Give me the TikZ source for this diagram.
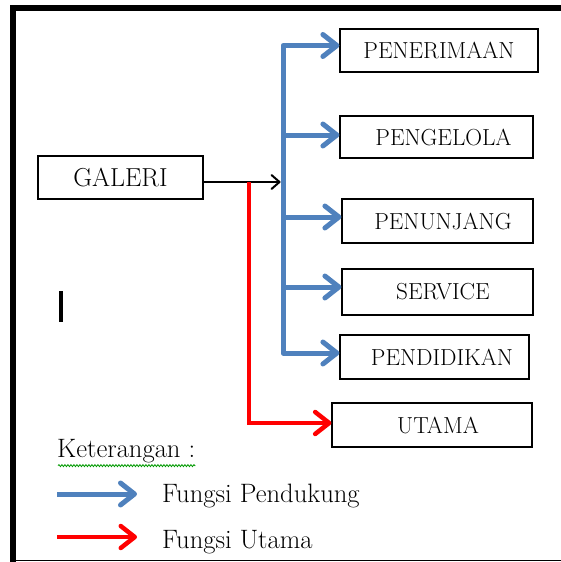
\documentclass[tikz,border=0pt]{standalone}
\usetikzlibrary{arrows.meta,decorations.pathmorphing}
\definecolor{pblue}{HTML}{4F81BD}
\definecolor{pred}{HTML}{FF0000}
\begin{document}
\begin{tikzpicture}[x=1pt,y=-1pt,
  box/.style={draw=black, line width=1.2pt, inner sep=0pt, font=\fontsize{23.2}{28}\selectfont},
  bluearr/.style={draw=pblue, line width=5pt, line join=round, -{Straight Barb[length=14pt,width=22pt,round]}},
  redarr/.style={draw=pred, line width=4.5pt, line join=miter, -{Straight Barb[length=14pt,width=22pt,round]}},
  blackarr/.style={draw=black, line width=2pt, -{Straight Barb[length=8pt,width=14pt,round]}},
  legtext/.style={anchor=base west, inner sep=0pt, font=\fontsize{26.6}{32}\selectfont},
  framethick/.style={line width=6pt, draw=black},
  framethin/.style={line width=1.5pt, draw=black}]
\useasboundingbox (0,0) rectangle (561,562);
% frame
\draw[framethick] (13,5) -- (13,562);
\draw[framethick] (10,8) -- (561,8);
\draw[framethin] (10,560.5) -- (561,560.5);
% boxes
\node[box, minimum width=165pt, minimum height=43pt, font=\fontsize{26}{31}\selectfont] (galeri) at (120.5,177.5) {GALERI};
\node[box, minimum width=198pt, minimum height=43pt] (penerimaan) at (439,50.5) {PENERIMAAN};
\node[box, minimum width=193pt, minimum height=42pt] (pengelola) at (436.5,137) {\hspace*{14pt}PENGELOLA};
\node[box, minimum width=191pt, minimum height=44pt] (penunjang) at (437.5,221) {\hspace*{11pt}PENUNJANG};
\node[box, minimum width=191pt, minimum height=46pt] (service) at (437.5,292) {\hspace*{11pt}SERVICE};
\node[box, minimum width=189pt, minimum height=44pt] (pendidikan) at (434.5,357) {\hspace*{15pt}PENDIDIKAN};
\node[box, minimum width=200pt, minimum height=44pt] (utama) at (432,425) {\hspace*{12pt}UTAMA};
% junctions
\coordinate (j) at (283,182);
\coordinate (r) at (249,182);
% blue connectors
\draw[bluearr] (j) |- ([yshift=5pt]penerimaan.west);
\draw[bluearr] (j) |- ([yshift=4pt]pendidikan.west);
\draw[bluearr] ([yshift=2pt]pengelola.west -| j) -- ([yshift=2pt]pengelola.west);
\draw[bluearr] ([yshift=4pt]penunjang.west -| j) -- ([yshift=4pt]penunjang.west);
\draw[bluearr] ([yshift=5pt]service.west -| j) -- ([yshift=5pt]service.west);
% black connector
\draw[blackarr, shorten >=2.5pt] ([yshift=-4.5pt]galeri.east) -- (j);
% red connector
\draw[redarr] (r) |- ([yshift=2pt]utama.west);
% cursor bar
\draw[line width=4pt] (60.5,291) -- (60.5,322);
% legend
\node[legtext] (ket) at (57,457) {Keterangan :};
\draw[green!60!black, line width=0.8pt, decorate, decoration={snake, amplitude=1pt, segment length=3pt}] (ket.south west) ++(1,3) coordinate (w1) -- (w1 -| ket.east);
\coordinate (lb1) at (57,494);
\coordinate (lb2) at (137,494);
\coordinate (lr1) at (57,537);
\coordinate (lr2) at (137,537);
\draw[bluearr] (lb1) -- (lb2);
\draw[redarr] (lr1) -- (lr2);
\node[legtext] (fp) at (162,502) {Fungsi Pendukung};
\node[legtext] (fu) at (162,548) {Fungsi Utama};
\end{tikzpicture}
\end{document}
